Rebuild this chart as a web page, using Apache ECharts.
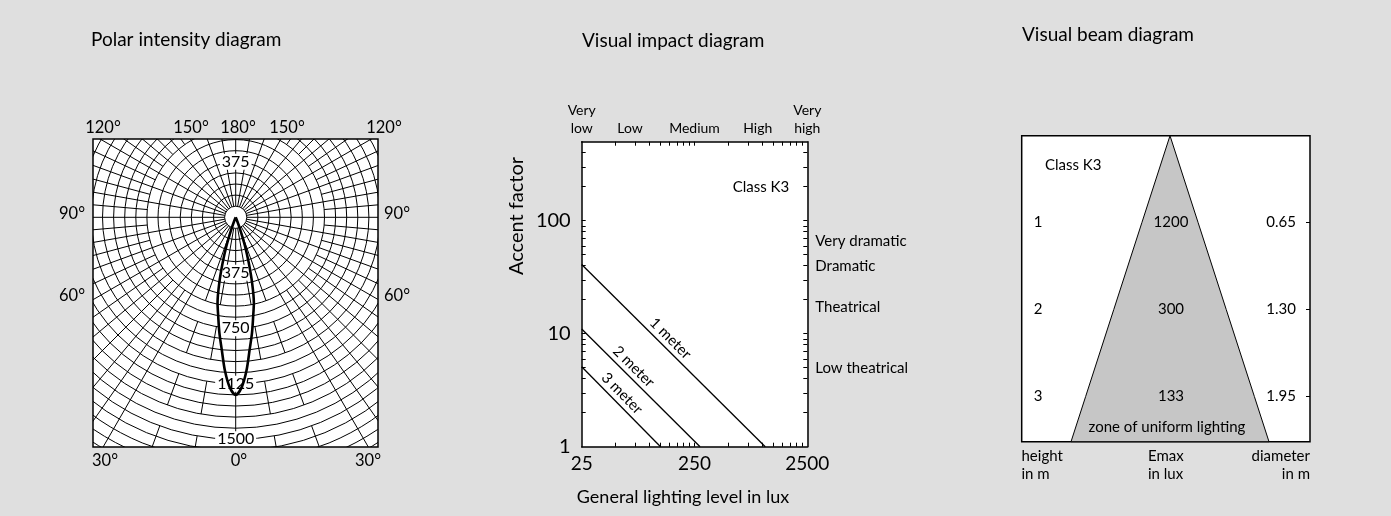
<!DOCTYPE html>
<html><head><meta charset="utf-8">
<script src="https://cdn.jsdelivr.net/npm/echarts@6/dist/echarts.min.js"></script>
<style>html,body{margin:0;padding:0;background:#dfdfdf}#c{width:1391px;height:516px}</style>
</head><body><div id="c"></div><script>
// ---------- Polar intensity diagram ----------
const lobeAngles    = [0, 2, 4, 6, 8, 10, 12, 14, 16, 18, 20, 22, 24];
const lobeIntensity = [1200, 1150, 1040, 900, 790, 680, 590, 460, 320, 200, 90, 25, 0];
const ringLabelValues = [375, 750, 1125, 1500];
const polarAngleTexts = ['120°','150°','180°','150°','120°','90°','90°','60°','60°','30°','0°','30°'];

// ---------- Visual impact diagram ----------
const impactNames = ['1 meter', '2 meter', '3 meter'];
const impact1m = [[25, 41], [1060, 1]];
const impact2m = [[25, 11], [280, 1]];
const impact3m = [[25, 5.1], [125, 1]];
const luxLabels = [25, 250, 2500];
const luxTicks = [50,75,100,125,150,175,200,225,250,500,750,1000,1250,1500,1750,2000,2250];
const accentLabels = [1, 10, 100];
const accentTicks = [2,3,4,5,6,7,8,9,10,20,30,40,50,60,70,80,90,100,200,300,400];
const levelNames = ['Very\nlow', 'Low', 'Medium', 'High', 'Very\nhigh'];
const levelLux = [25, 67, 250, 910, 2500];
const effectNames = ['Very dramatic', 'Dramatic', 'Theatrical', 'Low theatrical'];
const effectAccent = [66, 40, 17, 5];

// ---------- Visual beam diagram ----------
const beamHeights = [1, 2, 3];
const beamEmax = [1200, 300, 133];
const beamDiameters = ['0.65', '1.30', '1.95'];

const FONT = 'Lato';
const BG = '#dfdfdf';
const chart = echarts.init(document.getElementById('c'));

function idxOf(list, v) {
  for (let i = 0; i < list.length; i++) if (Math.abs(list[i] - v) <= 1e-3 * Math.abs(list[i])) return i;
  return -1;
}

// polar grid structure (spoke segments): [angle, r0, r1]
const coneBands = [[75, 600], [750, 975], [1125, 1350], [1500, 1800]];
const spokes = [];
for (let a = 0; a < 360; a += 5) {
  const inCone = (a < 30 || a > 330);
  const major = a % 10 === 0;
  if (a % 30 === 0) spokes.push([a, 75, 1800]);
  else if (inCone) { if (major) coneBands.forEach(b => spokes.push([a, b[0], b[1]])); }
  else if (major) spokes.push([a, 75, 1800]);
  else spokes.push([a, 600, 1800]);
}

// lobe data [r, angle]
const lobeData = [];
for (let i = lobeAngles.length - 1; i >= 1; i--) lobeData.push([lobeIntensity[i], 360 - lobeAngles[i]]);
for (let i = 0; i < lobeAngles.length; i++) lobeData.push([lobeIntensity[i], lobeAngles[i]]);

const tickStyle = {color: '#000', width: 1};
const lineBlack = {color: '#000', width: 1.5};

const option = {
  backgroundColor: BG,
  animation: false,
  textStyle: {fontFamily: FONT, color: '#000'},
  polar: {center: [235.7, 217.3], radius: [0, 266.4]},
  angleAxis: {type: 'value', min: 0, max: 360, startAngle: 270, clockwise: true,
    axisLine: {show: false}, axisTick: {show: false}, axisLabel: {show: false}, splitLine: {show: false}},
  radiusAxis: {type: 'value', min: 0, max: 1800, interval: 75,
    axisLine: {show: false}, axisTick: {show: false}, axisLabel: {show: false},
    splitLine: {show: true, lineStyle: {color: '#000', width: 1}}},
  grid: [
    {left: 581.7, top: 141.7, width: 225.6, height: 305, show: true, backgroundColor: '#fff', borderWidth: 0},
    {left: 1021.7, top: 135.7, width: 288.3, height: 306, show: true, backgroundColor: '#fff', borderColor: '#000', borderWidth: 1.5}
  ],
  xAxis: [
    {gridIndex: 0, type: 'log', logBase: 10, min: 25, max: 2500, position: 'bottom',
      axisLine: {show: true, onZero: false, lineStyle: lineBlack},
      axisTick: {show: true, inside: true, length: 4, customValues: luxTicks, lineStyle: tickStyle},
      axisLabel: {customValues: luxLabels, fontSize: 19, color: '#000', margin: 8, fontFamily: FONT, formatter: v => String(Math.round(v))},
      splitLine: {show: false}, minorTick: {show: false}},
    {gridIndex: 0, type: 'log', logBase: 10, min: 25, max: 2500, position: 'top',
      axisLine: {show: true, onZero: false, lineStyle: lineBlack},
      axisTick: {show: true, inside: true, length: 4, customValues: luxTicks, lineStyle: tickStyle},
      axisLabel: {customValues: levelLux, fontSize: 14, lineHeight: 18, color: '#000', margin: 4, fontFamily: FONT,
        formatter: v => { const i = idxOf(levelLux, v); return i >= 0 ? levelNames[i] : ''; }},
      splitLine: {show: false}},
    {gridIndex: 1, type: 'value', min: -1.714, max: 1.618, show: false}
  ],
  yAxis: [
    {gridIndex: 0, type: 'log', logBase: 10, min: 1, max: 500, position: 'left',
      axisLine: {show: true, onZero: false, lineStyle: lineBlack},
      axisTick: {show: true, inside: true, length: 4, customValues: accentTicks, lineStyle: tickStyle},
      axisLabel: {customValues: accentLabels, fontSize: 20, color: '#000', margin: 11, fontFamily: FONT, formatter: v => String(Math.round(v))},
      splitLine: {show: false}},
    {gridIndex: 0, type: 'log', logBase: 10, min: 1, max: 500, position: 'right',
      axisLine: {show: true, onZero: false, lineStyle: lineBlack},
      axisTick: {show: true, inside: true, length: 4, customValues: accentTicks, lineStyle: tickStyle},
      axisLabel: {customValues: effectAccent, fontSize: 15, color: '#000', margin: 8, align: 'left', fontFamily: FONT,
        formatter: v => { const i = idxOf(effectAccent, v); return i >= 0 ? effectNames[i] : ''; }},
      splitLine: {show: false}},
    {gridIndex: 1, type: 'value', inverse: true, min: 0, max: 3.52, position: 'left',
      axisLine: {show: false},
      axisTick: {show: true, inside: true, length: 4, customValues: beamHeights, lineStyle: tickStyle},
      axisLabel: {inside: true, customValues: beamHeights, fontSize: 15, color: '#000', margin: 12, align: 'left', fontFamily: FONT},
      splitLine: {show: false}},
    {gridIndex: 1, type: 'value', inverse: true, min: 0, max: 3.52, position: 'right',
      axisLine: {show: false},
      axisTick: {show: true, inside: true, length: 4, customValues: beamHeights, lineStyle: tickStyle},
      axisLabel: {inside: true, customValues: beamHeights, fontSize: 15, color: '#000', margin: 14, align: 'right', fontFamily: FONT,
        formatter: v => { const i = beamHeights.indexOf(Math.round(v)); return i >= 0 ? beamDiameters[i] : ''; }},
      splitLine: {show: false}}
  ],
  series: [
    {type: 'line', coordinateSystem: 'polar', data: lobeData, symbol: 'none', smooth: 0.3, z: 10,
      lineStyle: {color: '#000', width: 2.6}},
    {type: 'custom', coordinateSystem: 'polar', data: spokes, z: 2, silent: true,
      renderItem: (params, api) => {
        const a = api.value(0), r0 = api.value(1), r1 = api.value(2);
        const p0 = api.coord([r0, a]), p1 = api.coord([r1, a]);
        return {type: 'line', shape: {x1: p0[0], y1: p0[1], x2: p1[0], y2: p1[1]}, style: {stroke: '#000', lineWidth: 1}};
      }},
    {type: 'line', name: impactNames[0], xAxisIndex: 0, yAxisIndex: 0, data: impact1m, symbol: 'none', lineStyle: {color: '#000', width: 1.3}},
    {type: 'line', name: impactNames[1], xAxisIndex: 0, yAxisIndex: 0, data: impact2m, symbol: 'none', lineStyle: {color: '#000', width: 1.3}},
    {type: 'line', name: impactNames[2], xAxisIndex: 0, yAxisIndex: 0, data: impact3m, symbol: 'none', lineStyle: {color: '#000', width: 1.3}},
    {type: 'custom', xAxisIndex: 2, yAxisIndex: 2, z: 2,
      data: beamHeights.map((h, i) => [parseFloat(beamDiameters[i]) / 2, h]),
      renderItem: (params, api) => {
        if (params.dataIndex !== 0) return null;
        const half = api.value(0), h = api.value(1);
        const yMax = 3.52, ext = half / h * yMax;
        const pts = [[0, 0]];
        beamHeights.forEach((hh, i) => pts.push([-parseFloat(beamDiameters[i]) / 2, hh]));
        pts.push([-ext, yMax], [ext, yMax]);
        for (let i = beamHeights.length - 1; i >= 0; i--) pts.push([parseFloat(beamDiameters[i]) / 2, beamHeights[i]]);
        return {type: 'polygon', shape: {points: pts.map(p => api.coord(p))},
          style: {fill: '#c6c6c6', stroke: '#000', lineWidth: 1}};
      }},
    {type: 'custom', xAxisIndex: 2, yAxisIndex: 2, z: 5,
      data: beamHeights.map((h, i) => [0, h, beamEmax[i]]),
      renderItem: (params, api) => {
        const p = api.coord([api.value(0), api.value(1)]);
        return {type: 'text', x: p[0] + 1, y: p[1],
          style: {text: String(api.value(2)), fontFamily: FONT, fontSize: 15, fill: '#000', align: 'center', verticalAlign: 'middle'}};
      }}
  ]
};
chart.setOption(option);

// ---------- text and masks ----------
const T = (text, x, y, size, extra) => Object.assign({type: 'text', x: x, y: y, z: 60,
  style: Object.assign({text: text, fontFamily: FONT, fontSize: size, fill: '#000', align: 'center', verticalAlign: 'middle'}, extra || {})});
const box = {x0: 93, y0: 139, x1: 378, y1: 447};
const gfx = [
  {type: 'rect', z: -1, shape: {x: box.x0, y: box.y0, width: box.x1 - box.x0, height: box.y1 - box.y0}, style: {fill: '#fff'}},
  {type: 'rect', z: 50, shape: {x: 0, y: 0, width: 506, height: box.y0}, style: {fill: BG}},
  {type: 'rect', z: 50, shape: {x: 0, y: box.y1, width: 506, height: 516 - box.y1}, style: {fill: BG}},
  {type: 'rect', z: 50, shape: {x: 0, y: box.y0 - 1, width: box.x0, height: box.y1 - box.y0 + 2}, style: {fill: BG}},
  {type: 'rect', z: 50, shape: {x: box.x1, y: box.y0 - 1, width: 506 - box.x1, height: box.y1 - box.y0 + 2}, style: {fill: BG}},
  {type: 'rect', z: 51, shape: {x: box.x0, y: box.y0, width: box.x1 - box.x0, height: box.y1 - box.y0}, style: {fill: 'none', stroke: '#000', lineWidth: 1.5}},
  T('Polar intensity diagram', 91, 40, 19, {align: 'left'}),
  T('Visual impact diagram', 582, 41, 19, {align: 'left'}),
  T('Visual beam diagram', 1022, 35, 19, {align: 'left'})
];
// polar angle labels
const angPos = [[103,128],[191,128],[238,128],[287,128],[384,128],[72,214],[397,214],[72,296],[397,296],[105,461],[239,461],[368,461]];
polarAngleTexts.forEach((t, i) => gfx.push(T(t, angPos[i][0], angPos[i][1], 16.5)));
// ring labels
const up = chart.convertToPixel({seriesIndex: 0}, [ringLabelValues[0], 180]);
gfx.push(Object.assign(T(String(ringLabelValues[0]), up[0], up[1], 16, {backgroundColor: '#fff', padding: [0, 2]}), {z: 5}));
ringLabelValues.forEach(v => {
  const p = chart.convertToPixel({seriesIndex: 0}, [v, 0]);
  gfx.push(Object.assign(T(String(v), p[0], p[1], 16, {backgroundColor: '#fff', padding: [0, 2]}), {z: 5}));
});
// impact line labels
const impactSets = [impact1m, impact2m, impact3m];
const labelFrac = [0.445, 0.38, 0.42];
impactSets.forEach((d, i) => {
  const a = chart.convertToPixel({gridIndex: 0}, d[0]);
  const b = chart.convertToPixel({gridIndex: 0}, d[1]);
  const t = labelFrac[i];
  const x = a[0] + (b[0] - a[0]) * t, y = a[1] + (b[1] - a[1]) * t;
  const ang = Math.atan2(b[1] - a[1], b[0] - a[0]);
  const nx = Math.sin(ang) * 10, ny = -Math.cos(ang) * 10;
  gfx.push(Object.assign(T(impactNames[i], x + nx, y + ny, 15), {rotation: -ang}));
});
gfx.push(Object.assign(T('Accent factor', 516.7, 216, 20), {rotation: Math.PI / 2}));
gfx.push(T('General lighting level in lux', 683, 497, 18));
gfx.push(T('Class K3', 761, 187, 15));
// beam panel texts
gfx.push(T('Class K3', 1045, 165, 15, {align: 'left'}));
const zp = chart.convertToPixel({xAxisIndex: 2, yAxisIndex: 2}, [0, 3.35]);
gfx.push(T('zone of uniform lighting', zp[0] - 3, zp[1], 15));
gfx.push(T('height\nin m', 1021.5, 465, 15, {align: 'left', lineHeight: 18}));
gfx.push(T('Emax\nin lux', 1148, 465, 15, {align: 'left', lineHeight: 18}));
gfx.push(T('diameter\nin m', 1310, 465, 15, {align: 'right', lineHeight: 18}));
chart.setOption({graphic: {elements: gfx}});
</script></body></html>
